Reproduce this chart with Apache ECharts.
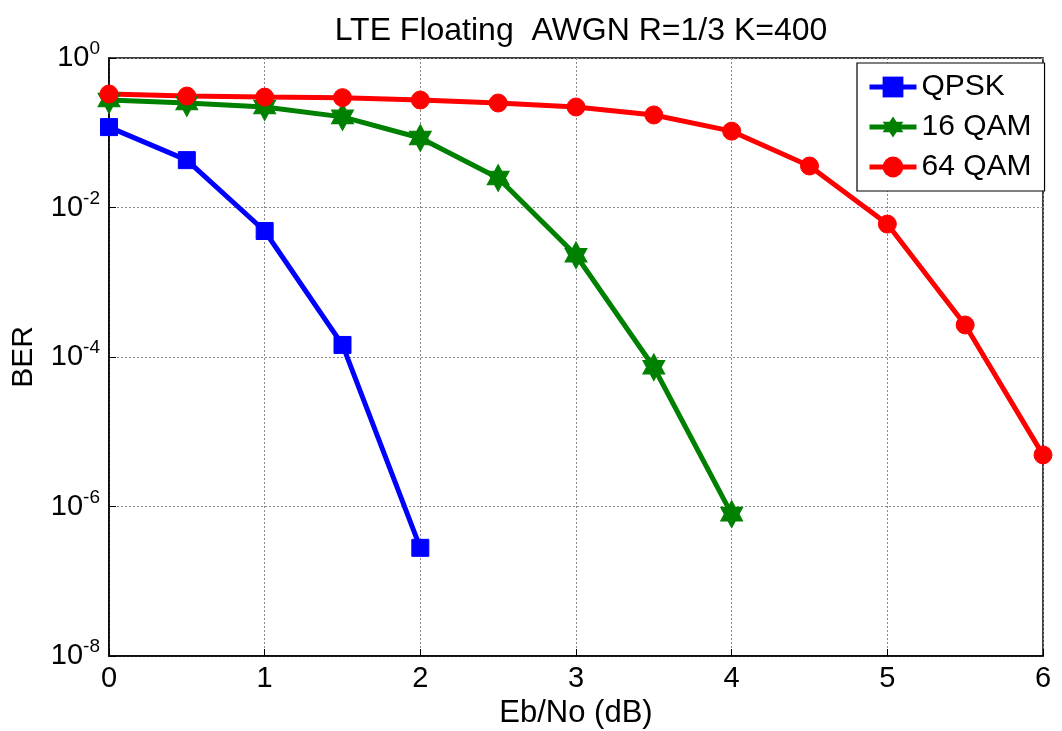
<!DOCTYPE html>
<html>
<head>
<meta charset="utf-8">
<script src="https://cdn.jsdelivr.net/npm/echarts@6/dist/echarts.min.js"></script>
<style>html,body{margin:0;padding:0;background:#fff;}#c{width:1062px;height:731px;}</style>
</head>
<body>
<div id="c"></div>
<script>
const ebno = [0, 0.5, 1, 1.5, 2, 2.5, 3, 3.5, 4, 4.5, 5, 5.5, 6];
const qpsk = [0.119, 0.043, 0.00485, 1.45e-4, 2.8e-7];
const qam16 = [0.274, 0.25, 0.221, 0.163, 0.085, 0.0248, 0.0023, 7.3e-5, 7.9e-7];
const qam64 = [0.33, 0.31, 0.30, 0.295, 0.274, 0.25, 0.221, 0.173, 0.105, 0.0359, 0.006, 2.68e-4, 4.9e-6];
const seriesNames = ['QPSK', '16 QAM', '64 QAM'];
const titleText = 'LTE Floating  AWGN R=1/3 K=400';

const hexagram = 'path://M50,0 L64.43,25 L93.3,25 L78.87,50 L93.3,75 L64.43,75 L50,100 L35.57,75 L6.7,75 L21.13,50 L6.7,25 L35.57,25 Z';

function pairs(ys) { return ys.map((y, i) => [ebno[i], y]); }

const chart = echarts.init(document.getElementById('c'));
const font = 'Liberation Sans, Arial, sans-serif';
chart.setOption({
  animation: false,
  textStyle: { fontFamily: font },
  title: {
    text: titleText, left: 576, top: 10, textAlign: 'center',
    textStyle: { fontSize: 32, fontWeight: 'normal', color: '#000', fontFamily: font }
  },
  grid: { left: 109, right: 19, top: 58, bottom: 75, show: true, borderColor: '#000', borderWidth: 1.5,
          backgroundColor: '#fff', containLabel: false, outerBoundsMode: 'none' },
  legend: {
    orient: 'vertical', left: 857, top: 63,
    backgroundColor: '#fff', borderColor: '#000', borderWidth: 1.2,
    padding: [9, 13, 9, 10], itemGap: 10, itemWidth: 47, itemHeight: 26,
    lineStyle: { width: 5 },
    textStyle: { fontSize: 30, lineHeight: 30, color: '#000', fontFamily: font },
    data: seriesNames
  },
  xAxis: {
    type: 'value', min: 0, max: 6, interval: 1,
    name: 'Eb/No (dB)', nameLocation: 'middle', nameGap: 41,
    nameTextStyle: { fontSize: 31, color: '#000', fontFamily: font },
    axisLine: { lineStyle: { color: '#000', width: 1.5 } },
    axisTick: { inside: true, length: 7, lineStyle: { color: '#000' } },
    axisLabel: { fontSize: 29, color: '#000', margin: 8, fontFamily: font },
    splitLine: { show: true, lineStyle: { color: '#888', type: [2, 2], width: 1 } }
  },
  yAxis: {
    type: 'log', logBase: 10, min: 1e-8, max: 1, interval: 2,
    name: 'BER', nameLocation: 'middle', nameGap: 70, nameRotate: 90,
    nameTextStyle: { fontSize: 30, color: '#000', fontFamily: font },
    axisLine: { lineStyle: { color: '#000', width: 1.5 } },
    axisTick: { inside: true, length: 7, lineStyle: { color: '#000' } },
    axisLabel: {
      margin: 9, color: '#000',
      formatter: function (v) {
        const e = Math.round(Math.log10(v));
        return '{b|10}{s|' + e + '}';
      },
      rich: {
        b: { fontSize: 29, color: '#000', fontFamily: font },
        s: { fontSize: 19, color: '#000', fontFamily: font, padding: [0, 0, 18, 0] }
      }
    },
    splitLine: { show: true, lineStyle: { color: '#888', type: [2, 2], width: 1 } }
  },
  series: [
    { name: seriesNames[0], type: 'line', data: pairs(qpsk), color: '#0000ff',
      lineStyle: { width: 5, color: '#0000ff' }, symbol: 'rect', symbolSize: 17,
      itemStyle: { color: '#0000ff', borderColor: '#0000ff' } },
    { name: seriesNames[1], type: 'line', data: pairs(qam16), color: '#008000',
      lineStyle: { width: 5, color: '#008000' }, symbol: hexagram, symbolSize: [22, 27],
      itemStyle: { color: '#008000', borderColor: '#008000' } },
    { name: seriesNames[2], type: 'line', data: pairs(qam64), color: '#ff0000',
      lineStyle: { width: 5, color: '#ff0000' }, symbol: 'circle', symbolSize: 18,
      itemStyle: { color: '#ff0000', borderColor: '#ff0000' } }
  ]
});
</script>
</body>
</html>
